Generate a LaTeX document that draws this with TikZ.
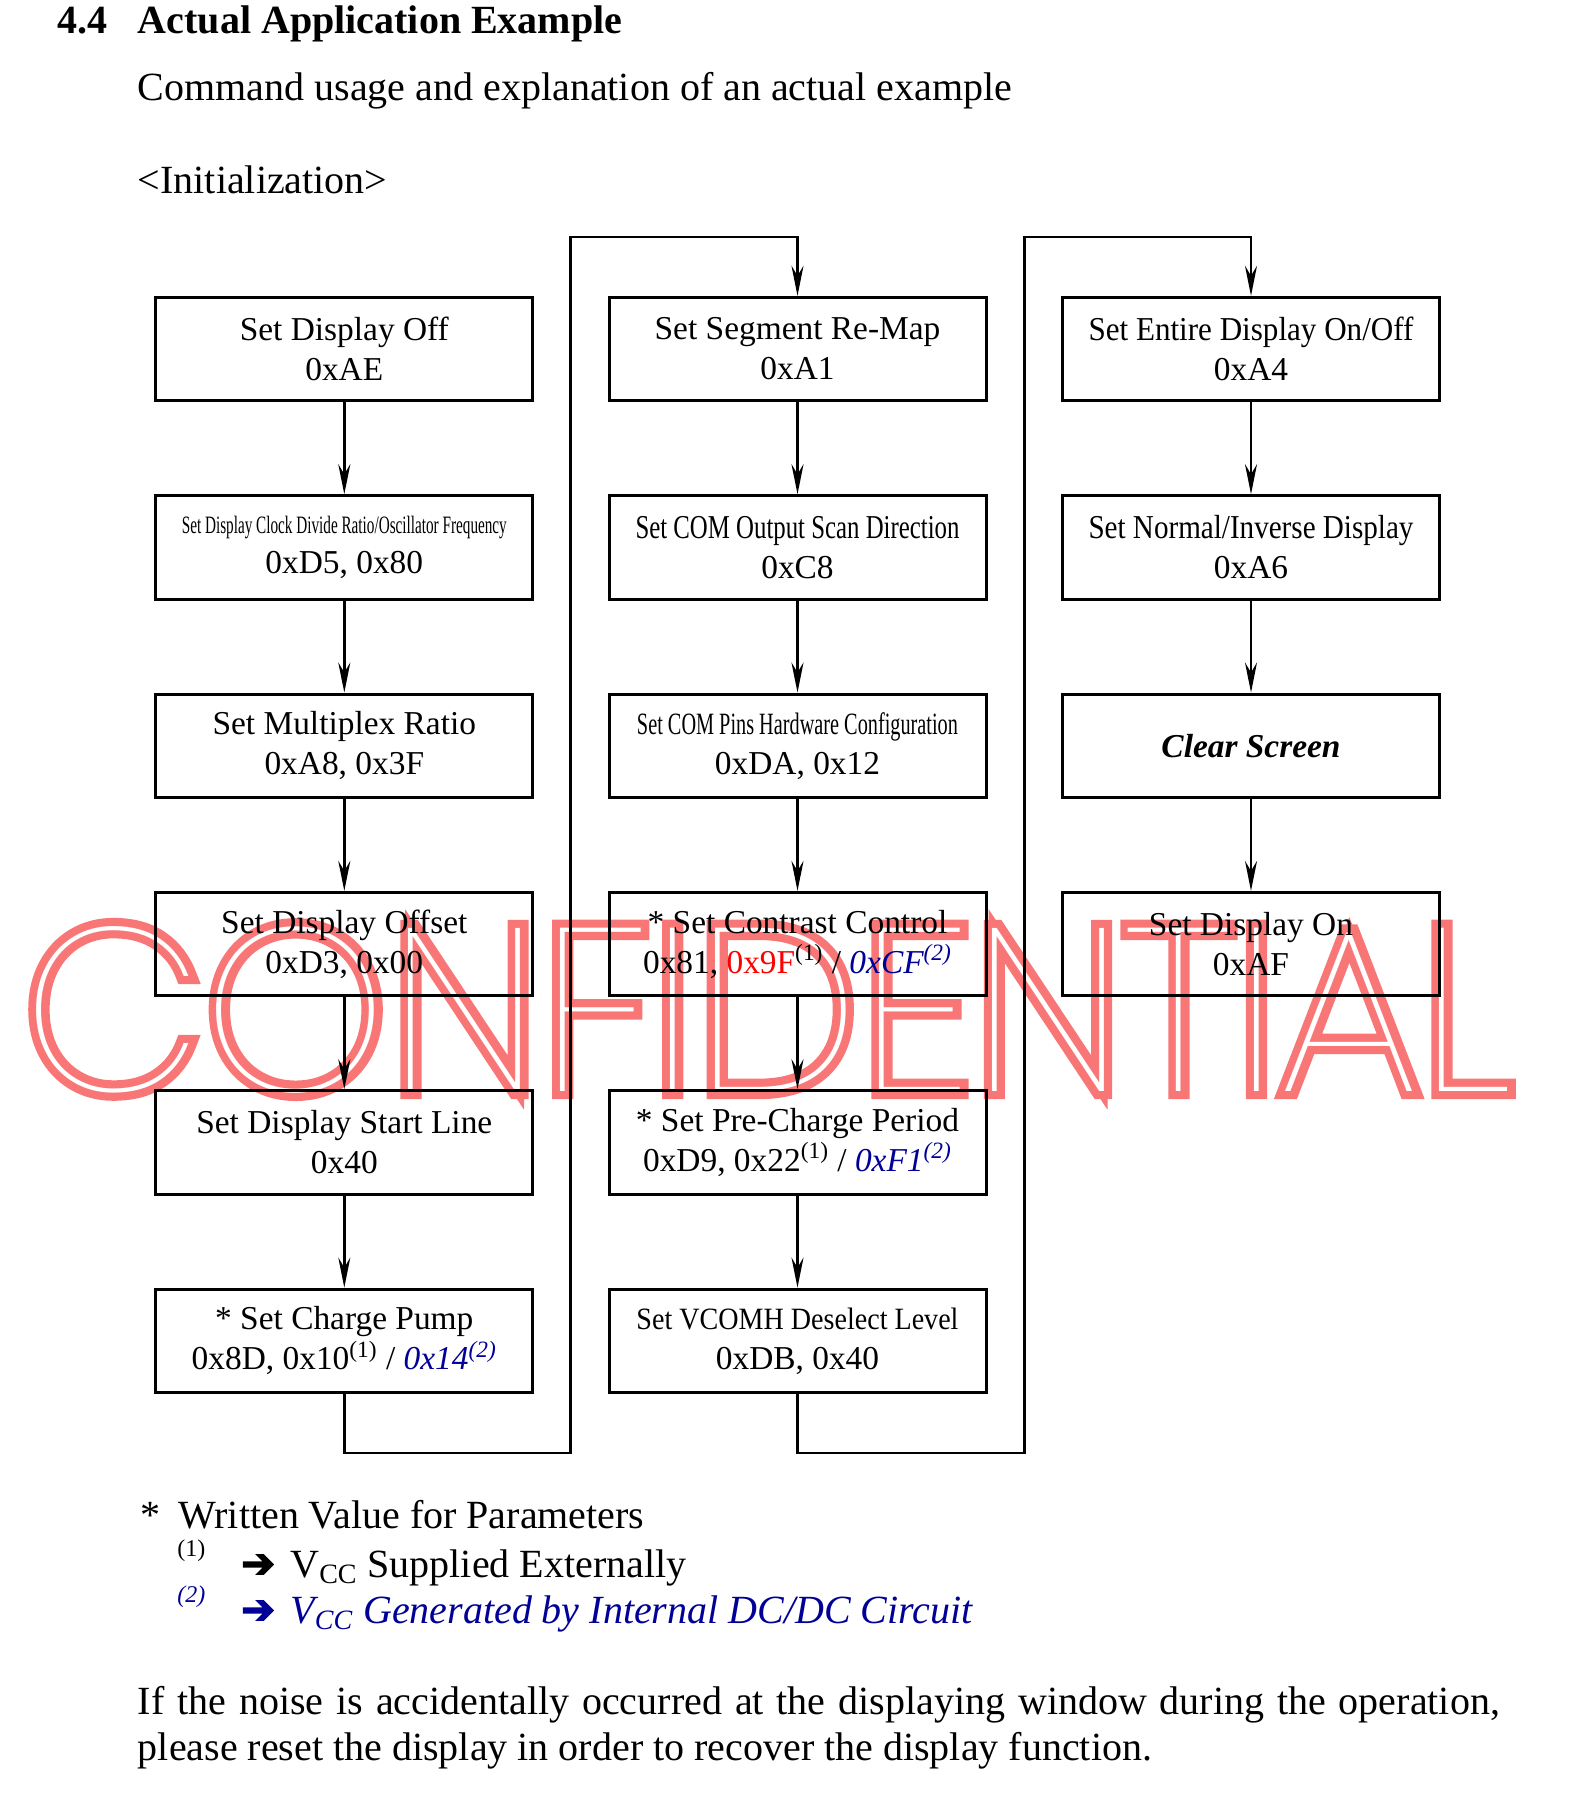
\documentclass[tikz,border=0pt]{standalone}
\usepackage{fontspec}
\usepackage{graphicx}
\setmainfont{Liberation Serif}
\definecolor{optblue}{RGB}{0,0,150}
\definecolor{stampred}{RGB}{248,118,118}
\newfontfamily\dingfont{DejaVu Sans}[FakeBold=4]
\IfFontExistsTF{Poppins Thin}{%
  \newfontfamily\stampfat{Poppins Thin}[FakeBold=7]
  \newfontfamily\stampthin{Poppins Thin}}{%
  \newfontfamily\stampfat{Poppins}[FakeBold=7]
  \newfontfamily\stampthin{Poppins}}
\usetikzlibrary{arrows.meta}

\newcommand{\squeeze}[2]{\resizebox{#1}{\height}{#2}}
\newcommand{\stampword}[1]{\rlap{\color{stampred}\stampfat #1}\textcolor{white}{\stampthin #1}}

\tikzset{
  cmdbox/.style={draw, line width=1.5pt, minimum width=188.5pt, minimum height=51.7pt,
    inner sep=0pt, align=center, font=\fontsize{16.7}{20}\selectfont},
  flow/.style={line width=1.25pt, -{Stealth[length=15pt, width=6pt, inset=5pt]}},
  prose/.style={inner sep=0pt, anchor=base west, font=\fontsize{20}{23}\selectfont},
}

\begin{document}
\begin{tikzpicture}[x=0.5pt, y=-0.5pt]
\def\xleft{344.3};
\def\xmid{797.5};
\def\xright{1251};

\def\rowa{349};
\def\rowb{547.4};
\def\rowc{745.7};
\def\rowd{944.1};
\def\rowe{1142.4};
\def\rowf{1340.8};

\useasboundingbox (0,0) rectangle (1572,1796);

% watermark, under everything else
\node [anchor=base west, inner sep=0pt, font=\fontsize{116}{120}\selectfont] (stamp) at (22,1091)
  {\squeeze{745pt}{\stampword{CONFIDENTIAL}}};

% heading
\node [prose, font=\fontsize{20}{23}\selectfont\bfseries] (secnum) at (57,33) {4.4};
\node [prose, font=\fontsize{20}{23}\selectfont\bfseries] (sectitle) at (137.5,33) {Actual Application Example};
\node [prose] (intro) at (137.5,100) {Command usage and explanation of an actual example};
\node [prose] (initlabel) at (137.5,193) {<Initialization>};

% first column
\node [cmdbox] (dispoff) at (\xleft,\rowa) {Set Display Off\\0xAE};
\node [cmdbox] (clkdiv) at (\xleft,\rowb) {{\fontsize{12.5}{15}\selectfont\squeeze{162.5pt}{Set Display Clock Divide Ratio/Oscillator Frequency}}\\0xD5, 0x80};
\node [cmdbox] (muxratio) at (\xleft,\rowc) {Set Multiplex Ratio\\0xA8, 0x3F};
\node [cmdbox] (dispoffset) at (\xleft,\rowd) {Set Display Offset\\0xD3, 0x00};
\node [cmdbox] (startline) at (\xleft,\rowe) {Set Display Start Line\\0x40};
\node [cmdbox] (chargepump) at (\xleft,\rowf) {* Set Charge Pump\\0x8D, 0x10\textsuperscript{(1)} / \textcolor{optblue}{\itshape 0x14\textsuperscript{(2)}}};

% second column
\node [cmdbox] (segremap) at (\xmid,\rowa) {Set Segment Re-Map\\0xA1};
\node [cmdbox] (comscan) at (\xmid,\rowb) {\squeeze{162pt}{Set COM Output Scan Direction}\\0xC8};
\node [cmdbox] (compins) at (\xmid,\rowc) {{\fontsize{15.5}{18}\selectfont\squeeze{160.5pt}{Set COM Pins Hardware Configuration}}\\0xDA, 0x12};
\node [cmdbox] (contrast) at (\xmid,\rowd) {* Set Contrast Control\\0x81, \textcolor{red}{0x9F}\textsuperscript{(1)} / \textcolor{optblue}{\itshape 0xCF\textsuperscript{(2)}}};
\node [cmdbox] (precharge) at (\xmid,\rowe) {* Set Pre-Charge Period\\0xD9, 0x22\textsuperscript{(1)} / \textcolor{optblue}{\itshape 0xF1\textsuperscript{(2)}}};
\node [cmdbox] (vcomh) at (\xmid,\rowf) {{\fontsize{15.5}{18}\selectfont\squeeze{161pt}{Set VCOMH Deselect Level}}\\0xDB, 0x40};

% third column
\node [cmdbox] (entiredisp) at (\xright,\rowa) {\squeeze{162.5pt}{Set Entire Display On/Off}\\0xA4};
\node [cmdbox] (normalinv) at (\xright,\rowb) {\squeeze{162.5pt}{Set Normal/Inverse Display}\\0xA6};
\node [cmdbox] (clearscr) at (\xright,\rowc) {\bfseries\itshape Clear Screen};
\node [cmdbox] (dispon) at (\xright,\rowd) {Set Display On\\0xAF};

\draw [flow] (dispoff) -- (clkdiv);
\draw [flow] (clkdiv) -- (muxratio);
\draw [flow] (muxratio) -- (dispoffset);
\draw [flow] (dispoffset) -- (startline);
\draw [flow] (startline) -- (chargepump);

\draw [flow] (segremap) -- (comscan);
\draw [flow] (comscan) -- (compins);
\draw [flow] (compins) -- (contrast);
\draw [flow] (contrast) -- (precharge);
\draw [flow] (precharge) -- (vcomh);

\draw [flow] (entiredisp) -- (normalinv);
\draw [flow] (normalinv) -- (clearscr);
\draw [flow] (clearscr) -- (dispon);

% column to column
\coordinate (gapab) at (570.6,1452.9);
\coordinate (feedb) at (\xmid,237.2);
\coordinate (gapbc) at (1024.4,1452.9);
\coordinate (feedc) at (\xright,237.2);
\draw [flow] (chargepump) |- (gapab) |- (feedb) -- (segremap);
\draw [flow] (vcomh) |- (gapbc) |- (feedc) -- (entiredisp);

% notes
\node [prose] (footstar) at (140,1528) {*};
\node [prose] (foothead) at (178,1528) {Written Value for Parameters};
\node [prose, font=\fontsize{12}{14}\selectfont] (markone) at (177,1556) {(1)};
\node [prose] (arrowone) at (241,1577) {\dingfont ➔};
\node [prose] (vccext) at (290,1577) {V\textsubscript{CC} Supplied Externally};
\node [prose, text=optblue, font=\fontsize{12}{14}\selectfont\itshape] (marktwo) at (177,1602) {(2)};
\node [prose, text=optblue] (arrowtwo) at (241,1623) {\dingfont ➔};
\node [prose, text=optblue, font=\fontsize{20}{23}\selectfont\itshape] (vccint) at (290,1623) {V\textsubscript{CC} Generated by Internal DC/DC Circuit};

\node [prose] (noiseone) at (137.5,1714) {\makebox[681pt][s]{If the noise is accidentally occurred at the displaying window during the operation,}};
\node [prose] (noisetwo) at (137.5,1760) {please reset the display in order to recover the display function.};

\end{tikzpicture}
\end{document}
